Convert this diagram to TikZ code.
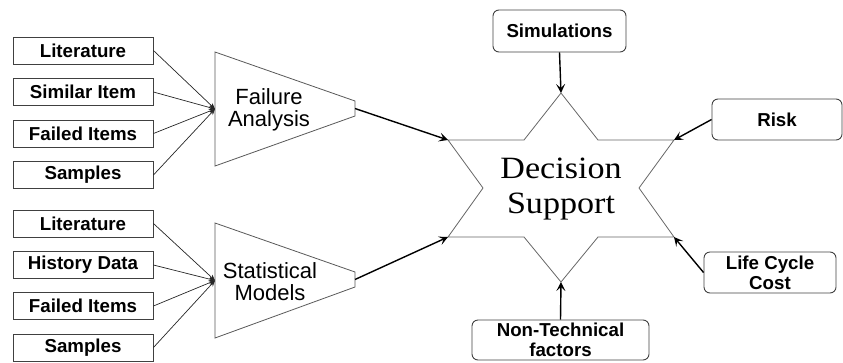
\documentclass[tikz,border=0pt]{standalone}
\usepackage{fontspec}
\setmainfont{Liberation Sans}
\newfontfamily\decfont[FakeStretch=1.1]{Liberation Serif}
\usetikzlibrary{arrows.meta}

\def\starpath{(561,93) -- (598,140) -- (674,140) -- (639,188) -- (674,237) -- (598,237) -- (561,282) -- (524,237) -- (448,237) -- (483,188) -- (448,140) -- (524,140) -- cycle}
\def\failtrap{(215,52) -- (355,101) -- (355,116) -- (215,166) -- cycle}
\def\stattrap{(215,223) -- (355,272) -- (355,287) -- (215,338) -- cycle}

\tikzset{
    srcbox/.style={draw=black!75, line width=0.9pt, minimum width=140pt, minimum height=27pt, inner sep=0pt, font=\fontsize{18.7}{20}\selectfont\bfseries},
    factorbox/.style={draw=black!75, line width=0.9pt, rounded corners=6pt, inner sep=0pt, align=center, font=\fontsize{18.7}{20}\selectfont\bfseries},
    feed/.style={draw=black!85, line width=0.7pt, -{Stealth[length=6pt,width=5pt]}},
    mainarrow/.style={line width=1.4pt, -{Stealth[length=9pt,width=9pt,inset=4pt]}},
}

\begin{document}
\begin{tikzpicture}[x=1pt, y=-1pt]

    \useasboundingbox (0,0) rectangle (843,362);

    \draw[black!65, line width=0.8pt] \failtrap;
    \draw[black!65, line width=0.8pt] \stattrap;
    \draw[black!60, line width=0.8pt] \starpath;

    % trapezoid ends
    \coordinate (fa-in)  at (215,109);
    \coordinate (fa-out) at (355,108.5);
    \coordinate (sm-in)  at (215,280.5);
    \coordinate (sm-out) at (355,279.5);

    % star points
    \coordinate (st-top) at (561,93);
    \coordinate (st-bot) at (561,282);
    \coordinate (st-lt)  at (448,140);
    \coordinate (st-lb)  at (448,237);
    \coordinate (st-rt)  at (674,140);
    \coordinate (st-rb)  at (674,237);

    % Failure Analysis inputs
    \node[srcbox] (lit1) at (83,50.5)  {Literature};
    \node[srcbox] (sim1) at (83,92)    {Similar Item};
    \node[srcbox] (fld1) at (83,133.5) {Failed Items};
    \node[srcbox] (smp1) at (83,175)   {Samples};

    % Statistical Models inputs
    \node[srcbox] (lit2) at (83,223.5) {Literature};
    \node[srcbox] (his2) at (83,265)   {History Data};
    \node[srcbox] (fld2) at (83,306)   {Failed Items};
    \node[srcbox] (smp2) at (83,347.5) {Samples};

    \node[font=\fontsize{22}{22.5}\selectfont, align=center] (fa) at (269,110) {Failure\\Analysis};
    \node[font=\fontsize{22}{22.5}\selectfont, align=center] (sm) at (270,281.5) {Statistical\\Models};

    \node[font=\fontsize{31}{35}\selectfont\decfont, align=center] (ds) at (561,189) {Decision\\Support};

    % factors round the star
    \node[factorbox, minimum width=133pt, minimum height=42pt] (simu) at (559.5,31)  {Simulations};
    \node[factorbox, minimum width=130pt, minimum height=41pt] (risk) at (777,119.5) {Risk};
    \node[factorbox, minimum width=132pt, minimum height=41pt] (lcc)  at (770,272.5) {Life Cycle\\Cost};
    \node[factorbox, minimum width=177pt, minimum height=40pt] (ntf)  at (560.5,340) {Non-Technical\\factors};

    \foreach \src in {lit1,sim1,fld1,smp1}
        \draw[feed] (\src.east) -- (fa-in);
    \foreach \src in {lit2,his2,fld2,smp2}
        \draw[feed] (\src.east) -- (sm-in);

    \draw[mainarrow] (fa-out) -- (st-lt);
    \draw[mainarrow] (sm-out) -- (st-lb);
    \draw[mainarrow] (simu.south) -- (st-top);
    \draw[mainarrow] (risk.west) -- (st-rt);
    \draw[mainarrow] (lcc.west) -- (st-rb);
    \draw[mainarrow] (ntf.north) -- (st-bot);

\end{tikzpicture}
\end{document}
